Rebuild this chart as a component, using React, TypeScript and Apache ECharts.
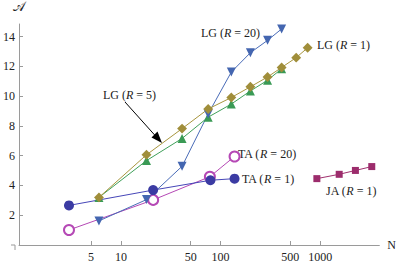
import React, { useEffect, useRef } from 'react';
import * as echarts from 'echarts';

const xTickLabels = [5, 10, 50, 100, 500, 1000];
const yTickLabels = [2, 4, 6, 8, 10, 12, 14];

const taR1N = [3, 21, 79, 138];
const taR1A = [2.66, 3.69, 4.35, 4.46];
const taR20N = [3, 21, 78, 138];
const taR20A = [1.01, 3.03, 4.59, 5.95];
const lgR20N = [6, 18, 41, 75, 128, 199, 296, 410];
const lgR20A = [1.62, 3.05, 5.29, 8.81, 11.62, 12.92, 13.75, 14.52];
const lgR1N = [6, 18, 41, 75, 128, 199, 296, 410, 574, 748];
const lgR1A = [3.2, 6.06, 7.82, 9.14, 9.91, 10.63, 11.29, 11.93, 12.59, 13.25];
const lgR5N = [6, 18, 41, 75, 128, 199, 296, 410];
const lgR5A = [3.2, 5.67, 7.16, 8.59, 9.47, 10.35, 11.07, 11.84];
const jaN = [926, 1552, 2258, 3296];
const jaA = [4.46, 4.75, 5.01, 5.27];

const SERIF = '"Liberation Serif", "DejaVu Serif", serif';

const toPts = (n: number[], a: number[]) => n.map((v, i) => [Math.log10(v), a[i]]);

const richStyle = {
  a: { fontFamily: SERIF, fontSize: 12, fill: '#222' },
  i: { fontFamily: SERIF, fontSize: 12, fontStyle: 'italic', fill: '#222' },
};

const label = (text: string, x: number, y: number) => ({
  type: 'text',
  x,
  y,
  style: {
    text,
    rich: richStyle,
    verticalAlign: 'middle',
    align: 'left',
  },
});

export default function App() {
  const ref = useRef<HTMLDivElement>(null);
  useEffect(() => {
    if (!ref.current) return;
    const chart = echarts.init(ref.current, null, { renderer: 'svg' });
    const axisColor = '#9a9a9a';
    chart.setOption({
      animation: false,
      backgroundColor: '#fff',
      grid: { left: 15, right: 19, top: 20, bottom: 18, containLabel: false },
      xAxis: {
        type: 'value',
        min: -0.025,
        max: 3.594,
        name: 'N',
        nameLocation: 'end',
        nameGap: 8,
        nameTextStyle: { fontFamily: SERIF, fontSize: 12, color: '#222', verticalAlign: 'middle' },
        axisLine: { show: true, onZero: false, lineStyle: { color: axisColor, width: 1 } },
        axisTick: {
          show: true,
          inside: true,
          length: 4,
          customValues: xTickLabels.map((v) => Math.log10(v)),
          lineStyle: { color: axisColor },
        },
        axisLabel: {
          show: true,
          margin: 6,
          customValues: xTickLabels.map((v) => Math.log10(v)),
          formatter: (v: number) => String(Math.round(Math.pow(10, v))),
          fontFamily: SERIF,
          fontSize: 12,
          color: '#222',
        },
        splitLine: { show: false },
      },
      yAxis: {
        type: 'value',
        min: 0,
        max: 14.85,
        name: '𝒜',
        nameLocation: 'end',
        nameGap: 11,
        nameTextStyle: { fontFamily: SERIF, fontSize: 13, color: '#222', align: 'center' },
        axisLine: { show: true, onZero: false, lineStyle: { color: axisColor, width: 1 } },
        axisTick: {
          show: true,
          inside: true,
          length: 4,
          customValues: yTickLabels,
          lineStyle: { color: axisColor },
        },
        axisLabel: {
          show: true,
          margin: 4,
          customValues: yTickLabels,
          fontFamily: SERIF,
          fontSize: 12,
          color: '#222',
        },
        splitLine: { show: false },
      },
      series: [
        {
          name: 'TA (R = 20)',
          type: 'line',
          data: toPts(taR20N, taR20A),
          symbol: 'emptyCircle',
          symbolSize: 10,
          lineStyle: { color: '#b548b5', width: 1 },
          itemStyle: { color: '#b548b5', borderWidth: 1 },
        },
        {
          name: 'TA (R = 1)',
          type: 'line',
          data: toPts(taR1N, taR1A),
          symbol: 'circle',
          symbolSize: 10,
          lineStyle: { color: '#4646b8', width: 1 },
          itemStyle: { color: '#3b3ba3' },
        },
        {
          name: 'LG (R = 5)',
          type: 'line',
          data: toPts(lgR5N, lgR5A),
          symbol: 'triangle',
          symbolSize: 9,
          lineStyle: { color: '#3fa05a', width: 1 },
          itemStyle: { color: '#3a9a55' },
        },
        {
          name: 'LG (R = 20)',
          type: 'line',
          data: toPts(lgR20N, lgR20A),
          symbol: 'triangle',
          symbolRotate: 180,
          symbolSize: 9,
          lineStyle: { color: '#4a6cb8', width: 1 },
          itemStyle: { color: '#4466b0' },
        },
        {
          name: 'LG (R = 1)',
          type: 'line',
          data: toPts(lgR1N, lgR1A),
          symbol: 'rect',
          symbolRotate: 45,
          symbolSize: 7,
          lineStyle: { color: '#a8963e', width: 1 },
          itemStyle: { color: '#a08e3a' },
        },
        {
          name: 'JA (R = 1)',
          type: 'line',
          data: toPts(jaN, jaA),
          symbol: 'rect',
          symbolSize: 7,
          lineStyle: { color: '#a0306e', width: 1 },
          itemStyle: { color: '#9c2c6c' },
        },
      ],
      graphic: [
        { type: 'line', shape: { x1: 11, y1: 245, x2: 15, y2: 245 }, style: { stroke: axisColor, lineWidth: 1 } },
        { type: 'line', shape: { x1: 15, y1: 245, x2: 15, y2: 250 }, style: { stroke: axisColor, lineWidth: 1 } },
        { type: 'line', shape: { x1: 125, y1: 102, x2: 156, y2: 136.5 }, style: { stroke: '#000', lineWidth: 1 } },
        {
          type: 'polygon',
          shape: { points: [[162, 143], [151.5, 137.5], [157.5, 131.5]] },
          style: { fill: '#000' },
        },
        label('{a|LG (}{i|R}{a| = 20)}', 201, 33),
        label('{a|LG (}{i|R}{a| = 1)}', 317, 45),
        label('{a|LG (}{i|R}{a| = 5)}', 103, 95),
        label('{a|TA (}{i|R}{a| = 20)}', 238, 154),
        label('{a|TA (}{i|R}{a| = 1)}', 242, 179),
        label('{a|JA (}{i|R}{a| = 1)}', 326, 191),
      ],
    });
    return () => chart.dispose();
  }, []);
  return <div ref={ref} style={{ width: 399, height: 263, position: 'absolute', left: 0, top: 0 }} />;
}
